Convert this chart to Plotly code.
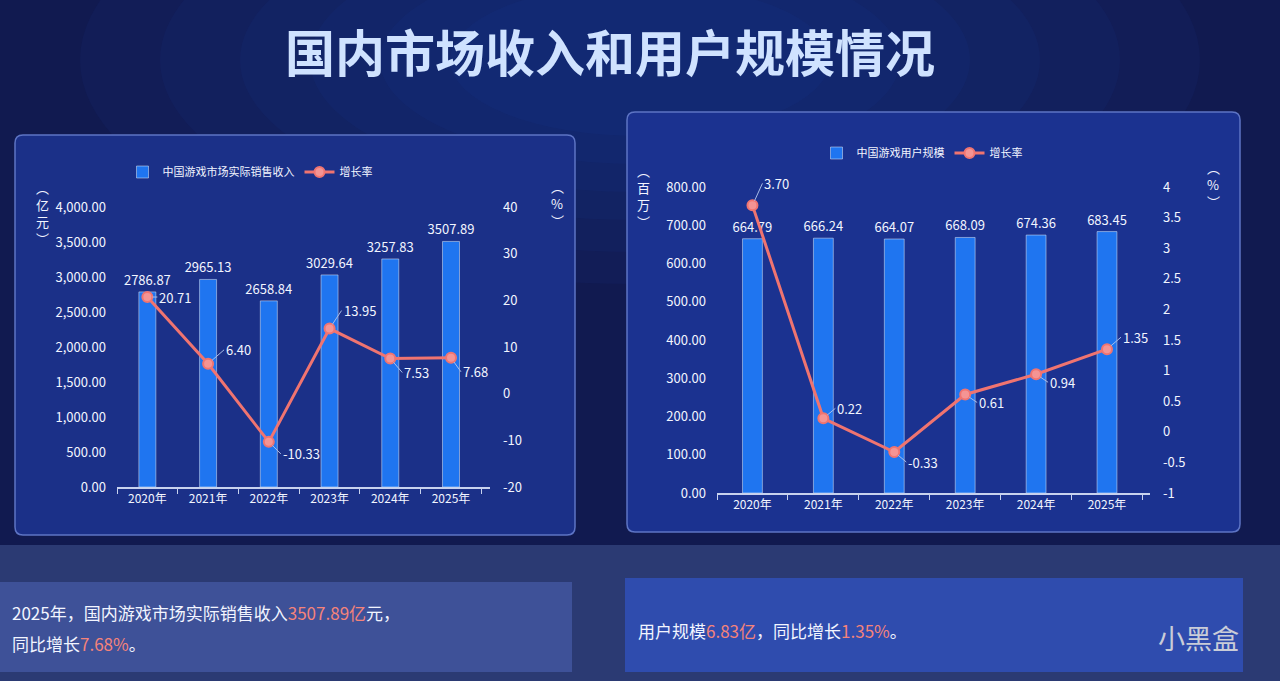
import plotly.graph_objects as go

years = ["2020年", "2021年", "2022年", "2023年", "2024年", "2025年"]
revenue = [2786.87, 2965.13, 2658.84, 3029.64, 3257.83, 3507.89]
revenue_growth = [20.71, 6.40, -10.33, 13.95, 7.53, 7.68]
users = [664.79, 666.24, 664.07, 668.09, 674.36, 683.45]
users_growth = [3.70, 0.22, -0.33, 0.61, 0.94, 1.35]

# right-axis ticks (written with a plain hyphen like the slide)
rev_rate_ticks = [-20, -10, 0, 10, 20, 30, 40]
usr_rate_ticks = [-1, -0.5, 0, 0.5, 1, 1.5, 2, 2.5, 3, 3.5, 4]

W, H = 1280, 681
BAR = "#1f75f0"
LINE = "#f07470"
TXT = "#f2f5ff"
FONT = "Noto Sans CJK SC"

# label offsets (px) for the growth-rate labels
rev_offsets = [(10, 0), (16, -14), (12, 12), (12, -18), (12, 14), (10, 14)]
usr_offsets = [(10, -22), (12, -10), (12, 10), (12, 8), (12, 8), (14, -12)]


def px(x):
    return x / W


def py(y):
    return 1 - y / H


def rounded(x0, y0, x1, y1, r):
    rx, ry = r / W, r / H
    a, b, c, d = px(x0), py(y1), px(x1), py(y0)
    return (
        f"M {a + rx},{b} L {c - rx},{b} Q {c},{b} {c},{b + ry} "
        f"L {c},{d - ry} Q {c},{d} {c - rx},{d} L {a + rx},{d} "
        f"Q {a},{d} {a},{d - ry} L {a},{b + ry} Q {a},{b} {a + rx},{b} Z"
    )


fig = go.Figure()


def add_pair(bar_vals, bar_name, rate_vals, xa, ya, ya2, leg):
    fig.add_trace(go.Bar(
        x=years, y=bar_vals, name=bar_name,
        marker_color=BAR, text=[f"{v:.2f}" for v in bar_vals],
        textposition="outside", constraintext="none",
        textfont=dict(color=TXT, size=13),
        cliponaxis=False, xaxis=xa, yaxis=ya, legend=leg,
    ))
    fig.add_trace(go.Scatter(
        x=years, y=rate_vals, name="增长率", mode="lines+markers",
        line=dict(color=LINE, width=3),
        marker=dict(size=10, color="#f49494", line=dict(color=LINE, width=2)),
        cliponaxis=False, xaxis=xa, yaxis=ya2, legend=leg,
    ))


add_pair(revenue, "中国游戏市场实际销售收入", revenue_growth, "x", "y", "y2", "legend")
add_pair(users, "中国游戏用户规模", users_growth, "x2", "y3", "y4", "legend2")

for vals, offs, xr, yr in [(revenue_growth, rev_offsets, "x", "y2"),
                           (users_growth, usr_offsets, "x2", "y4")]:
    for yr_label, v, (ax, ay) in zip(years, vals, offs):
        fig.add_annotation(
            x=yr_label, y=v, xref=xr, yref=yr, text=f"{v:.2f}",
            showarrow=True, arrowhead=0, arrowwidth=1, arrowcolor="#a9bde8",
            ax=ax, ay=ay, standoff=5, xanchor="left", yanchor="middle",
            font=dict(size=13, color=TXT, family=FONT),
        )

xcommon = dict(
    showgrid=False, showline=True, linecolor="#c8d2ee", linewidth=1.5,
    ticks="outside", tickson="boundaries", ticklen=5, tickcolor="#c8d2ee",
    tickfont=dict(color=TXT, size=12), type="category",
)
ycommon = dict(showgrid=False, zeroline=False, showline=False, tickfont=dict(color=TXT, size=13))

fig.update_layout(
    width=W, height=H, margin=dict(l=0, r=0, t=0, b=0, autoexpand=False),
    paper_bgcolor="#111a50", plot_bgcolor="rgba(0,0,0,0)",
    font=dict(family=FONT, color=TXT),
    bargap=0.72, showlegend=True,
    xaxis=dict(xcommon, domain=[px(117), px(490)], anchor="y"),
    yaxis=dict(ycommon, domain=[py(487), py(207)], range=[0, 4000], dtick=500,
               tickformat=",.2f", ticklabelstandoff=10),
    yaxis2=dict(ycommon, overlaying="y", side="right", range=[-20, 40],
                tickvals=rev_rate_ticks, ticktext=[f"{v:g}" for v in rev_rate_ticks],
                anchor="x", ticklabelstandoff=12),
    xaxis2=dict(xcommon, domain=[px(717), px(1150)], anchor="y3"),
    yaxis3=dict(ycommon, domain=[py(493), py(187)], range=[0, 800], dtick=100,
                tickformat=".2f", anchor="x2", ticklabelstandoff=10),
    yaxis4=dict(ycommon, overlaying="y3", side="right", range=[-1, 4],
                tickvals=usr_rate_ticks, ticktext=[f"{v:g}" for v in usr_rate_ticks],
                anchor="x2", ticklabelstandoff=12),
    legend=dict(orientation="h", x=px(250), y=py(172), xanchor="center", yanchor="middle",
                font=dict(size=11, color=TXT), bgcolor="rgba(0,0,0,0)", itemwidth=30),
    legend2=dict(orientation="h", x=px(922), y=py(153), xanchor="center", yanchor="middle",
                 font=dict(size=11, color=TXT), bgcolor="rgba(0,0,0,0)", itemwidth=30),
)

shapes = []
# soft glow behind the title
for r in [560, 480, 400, 330, 260, 190]:
    shapes.append(dict(type="circle", xref="paper", yref="paper",
                       x0=px(640 - r), x1=px(640 + r), y0=py(60 + r * 0.4), y1=py(60 - r * 0.4),
                       fillcolor="rgba(40,80,200,0.06)", line=dict(width=0), layer="below"))
shapes += [
    # lower band of the slide
    dict(type="rect", xref="paper", yref="paper", x0=0, x1=1, y0=0, y1=py(545),
         fillcolor="#2b3a73", line=dict(width=0), layer="below"),
    # chart panels
    dict(type="path", xref="paper", yref="paper", path=rounded(15, 135, 575, 535, 8),
         fillcolor="#1b3088", line=dict(color="#5d74c4", width=1.5), layer="below"),
    dict(type="path", xref="paper", yref="paper", path=rounded(627, 112, 1240, 532, 8),
         fillcolor="#1b3290", line=dict(color="#5d74c4", width=1.5), layer="below"),
    # text boxes
    dict(type="rect", xref="paper", yref="paper", x0=0, x1=px(572), y0=py(672), y1=py(582),
         fillcolor="#3e5198", line=dict(width=0), layer="below"),
    dict(type="rect", xref="paper", yref="paper", x0=px(625), x1=px(1243), y0=py(672), y1=py(578),
         fillcolor="#2f4cae", line=dict(width=0), layer="below"),
]
fig.update_layout(shapes=shapes)

RED = "#f5837a"
notes = [
    dict(text="<b>国内市场收入和用户规模情况</b>", x=px(610), y=py(50), size=50, color="#cfe2ff"),
    dict(text="︵<br>亿<br>元<br>︶", x=px(42), y=py(213), size=13, color=TXT, xanchor="center"),
    dict(text="︵<br>%<br>︶", x=px(557), y=py(203), size=13, color=TXT, xanchor="center"),
    dict(text="︵<br>百<br>万<br>︶", x=px(643), y=py(196), size=13, color=TXT, xanchor="center"),
    dict(text="︵<br>%<br>︶", x=px(1213), y=py(184), size=13, color=TXT, xanchor="center"),
    dict(text=f"2025年，国内游戏市场实际销售收入<span style='color:{RED}'>3507.89亿</span>元，",
         x=px(10), y=py(612), size=17, color=TXT, xanchor="left"),
    dict(text=f"同比增长<span style='color:{RED}'>7.68%</span>。",
         x=px(10), y=py(643), size=17, color=TXT, xanchor="left"),
    dict(text=f"用户规模<span style='color:{RED}'>6.83亿</span>，同比增长"
              f"<span style='color:{RED}'>1.35%</span>。",
         x=px(636), y=py(630), size=17, color=TXT, xanchor="left"),
    dict(text="小黑盒", x=px(1198), y=py(637), size=27, color="#c9ccd8", xanchor="center"),
]
for n in notes:
    fig.add_annotation(
        text=n["text"], x=n["x"], y=n["y"], xref="paper", yref="paper",
        xanchor=n.get("xanchor", "center"), yanchor="middle", showarrow=False, align="left",
        font=dict(size=n["size"], color=n["color"], family=FONT),
    )

fig.write_html("out.html", config={"displayModeBar": False},
               post_script="document.body.style.margin='0';")
